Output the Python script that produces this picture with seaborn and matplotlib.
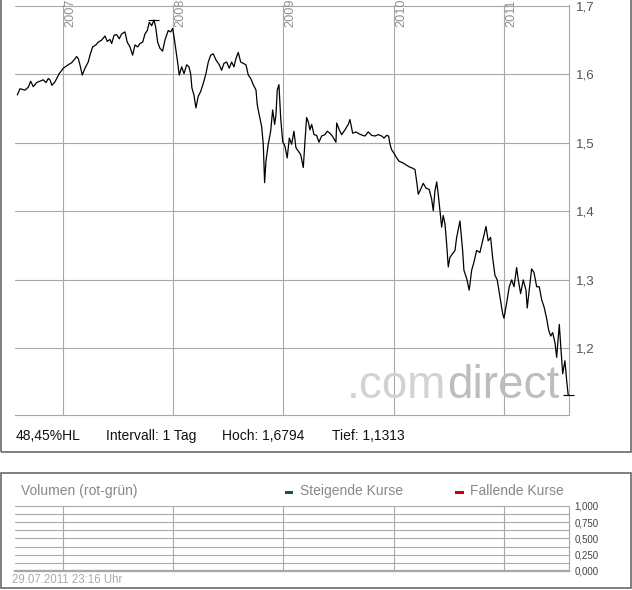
import numpy as np
import pandas as pd
import seaborn as sns
import matplotlib.pyplot as plt
from matplotlib.patches import Rectangle

# Kursverlauf (Dezimaljahr, Kurs)
years = [
    2006.586, 2006.610, 2006.655, 2006.685, 2006.707, 2006.731, 2006.761, 2006.791,
    2006.821, 2006.846, 2006.867, 2006.882, 2006.900, 2006.927, 2006.966, 2007.003,
    2007.048, 2007.079, 2007.100, 2007.124, 2007.139, 2007.154, 2007.175, 2007.200,
    2007.229, 2007.245, 2007.269, 2007.299, 2007.320, 2007.351, 2007.381, 2007.402,
    2007.426, 2007.442, 2007.463, 2007.487, 2007.511, 2007.532, 2007.562, 2007.583,
    2007.608, 2007.632, 2007.653, 2007.678, 2007.698, 2007.723, 2007.744, 2007.765,
    2007.783, 2007.805, 2007.825, 2007.841, 2007.859, 2007.880, 2007.904, 2007.925,
    2007.955, 2007.977, 2007.995, 2008.010, 2008.025, 2008.037, 2008.055, 2008.077,
    2008.098, 2008.122, 2008.143, 2008.158, 2008.170, 2008.188, 2008.206, 2008.227,
    2008.249, 2008.273, 2008.297, 2008.318, 2008.340, 2008.363, 2008.388, 2008.418,
    2008.439, 2008.460, 2008.485, 2008.508, 2008.530, 2008.551, 2008.569, 2008.590,
    2008.612, 2008.635, 2008.660, 2008.681, 2008.703, 2008.726, 2008.751, 2008.762,
    2008.780, 2008.802, 2008.817, 2008.829, 2008.841, 2008.862, 2008.884, 2008.902,
    2008.920, 2008.932, 2008.944, 2008.959, 2008.975, 2008.993, 2009.014, 2009.034,
    2009.053, 2009.074, 2009.095, 2009.113, 2009.134, 2009.156, 2009.180, 2009.195,
    2009.210, 2009.225, 2009.240, 2009.256, 2009.277, 2009.301, 2009.322, 2009.346,
    2009.376, 2009.397, 2009.422, 2009.443, 2009.476, 2009.483, 2009.506, 2009.528,
    2009.558, 2009.588, 2009.603, 2009.628, 2009.658, 2009.688, 2009.718, 2009.739,
    2009.769, 2009.800, 2009.830, 2009.860, 2009.891, 2009.912, 2009.936, 2009.954,
    2009.966, 2009.981, 2010.002, 2010.027, 2010.050, 2010.081, 2010.111, 2010.141,
    2010.172, 2010.193, 2010.208, 2010.223, 2010.244, 2010.268, 2010.293, 2010.322,
    2010.344, 2010.359, 2010.374, 2010.390, 2010.404, 2010.420, 2010.435, 2010.449,
    2010.465, 2010.480, 2010.495, 2010.510, 2010.556, 2010.571, 2010.601, 2010.625,
    2010.637, 2010.662, 2010.685, 2010.707, 2010.728, 2010.752, 2010.782, 2010.807,
    2010.837, 2010.857, 2010.879, 2010.897, 2010.918, 2010.939, 2010.964, 2010.988,
    2011.000, 2011.024, 2011.048, 2011.070, 2011.091, 2011.115, 2011.130, 2011.151,
    2011.175, 2011.200, 2011.211, 2011.229, 2011.251, 2011.272, 2011.297, 2011.320,
    2011.342, 2011.363, 2011.387, 2011.405, 2011.424, 2011.442, 2011.463, 2011.478,
    2011.502, 2011.514, 2011.533, 2011.553, 2011.569, 2011.583,
]
prices = [
    1.570, 1.579, 1.577, 1.581, 1.590, 1.582, 1.588, 1.590,
    1.592, 1.588, 1.594, 1.592, 1.584, 1.589, 1.601, 1.609,
    1.614, 1.617, 1.621, 1.626, 1.623, 1.614, 1.599, 1.609,
    1.618, 1.628, 1.640, 1.643, 1.647, 1.650, 1.656, 1.648,
    1.651, 1.645, 1.657, 1.658, 1.652, 1.659, 1.662, 1.647,
    1.640, 1.628, 1.643, 1.640, 1.645, 1.647, 1.659, 1.664,
    1.676, 1.671, 1.6794, 1.669, 1.647, 1.638, 1.634, 1.650,
    1.664, 1.662, 1.667, 1.652, 1.635, 1.621, 1.599, 1.611,
    1.601, 1.614, 1.611, 1.601, 1.580, 1.570, 1.551, 1.568,
    1.575, 1.587, 1.601, 1.618, 1.628, 1.630, 1.621, 1.614,
    1.606, 1.616, 1.618, 1.609, 1.618, 1.611, 1.623, 1.632,
    1.618, 1.616, 1.614, 1.599, 1.594, 1.585, 1.577, 1.556,
    1.541, 1.524, 1.498, 1.442, 1.473, 1.498, 1.517, 1.548,
    1.527, 1.541, 1.577, 1.585, 1.536, 1.502, 1.495, 1.478,
    1.507, 1.498, 1.517, 1.493, 1.488, 1.483, 1.464, 1.502,
    1.537, 1.531, 1.519, 1.527, 1.512, 1.511, 1.501, 1.510,
    1.512, 1.517, 1.514, 1.510, 1.501, 1.529, 1.519, 1.512,
    1.519, 1.527, 1.534, 1.514, 1.516, 1.513, 1.511, 1.510,
    1.516, 1.511, 1.510, 1.512, 1.510, 1.507, 1.511, 1.510,
    1.498, 1.490, 1.485, 1.478, 1.473, 1.471, 1.468, 1.465,
    1.463, 1.461, 1.444, 1.425, 1.432, 1.441, 1.434, 1.432,
    1.418, 1.401, 1.430, 1.443, 1.425, 1.401, 1.377, 1.394,
    1.382, 1.353, 1.319, 1.333, 1.343, 1.362, 1.386, 1.343,
    1.314, 1.302, 1.285, 1.314, 1.326, 1.343, 1.340, 1.357,
    1.378, 1.357, 1.362, 1.333, 1.307, 1.300, 1.275, 1.251,
    1.244, 1.266, 1.290, 1.300, 1.290, 1.318, 1.300, 1.280,
    1.300, 1.285, 1.259, 1.285, 1.316, 1.311, 1.290, 1.290,
    1.271, 1.261, 1.244, 1.227, 1.218, 1.223, 1.208, 1.187,
    1.235, 1.206, 1.163, 1.182, 1.153, 1.1313,
]

year_ticks = [2007, 2008, 2009, 2010, 2011]
price_ticks = [1.2, 1.3, 1.4, 1.5, 1.6, 1.7]
price_labels = ["1,2", "1,3", "1,4", "1,5", "1,6", "1,7"]
vol_ticks = [0.0, 0.25, 0.5, 0.75, 1.0]
vol_minor = [0.125, 0.375, 0.625, 0.875]
vol_labels = ["0,000", "0,250", "0,500", "0,750", "1,000"]
hoch = 1.6794
tief = 1.1313
info = ["48,45%HL", "Intervall: 1 Tag", "Hoch: 1,6794", "Tief: 1,1313"]

df = pd.DataFrame({"Jahr": years, "Kurs": prices})

sns.set_style("white")
plt.rcParams["font.family"] = ["Liberation Sans", "DejaVu Sans"]

W, H = 632, 590
fig = plt.figure(figsize=(W / 100, H / 100), dpi=100)


def fx(px):
    return px / W


def fy(py):
    return 1 - py / H


grid_c = "#a8a8a8"
box_c = "#6a6a6a"
xmin, xmax = 2006.565, 2011.590

# --- Kurs-Chart ---
ax = fig.add_axes([fx(15), fy(415), fx(569) - fx(15), fy(5.3) - fy(415)])
sns.lineplot(data=df, x="Jahr", y="Kurs", ax=ax, color="black", linewidth=0.9, zorder=3)
i_hi = int(np.argmax(prices))
i_lo = int(np.argmin(prices))
ax.hlines(hoch, years[i_hi] - 0.05, years[i_hi] + 0.05, color="black", lw=0.8, zorder=3, clip_on=False)
ax.hlines(tief, years[i_lo] - 0.05, years[i_lo] + 0.05, color="black", lw=0.8, zorder=3, clip_on=False)

ax.set_xlim(xmin, xmax)
ax.set_ylim(1.1028, 1.7008)
ax.set_xticks(year_ticks)
ax.set_yticks(price_ticks)
ax.set_yticklabels(price_labels)
ax.yaxis.tick_right()
ax.tick_params(axis="x", length=0, labelbottom=False)
ax.tick_params(axis="y", length=0, pad=5, labelsize=9.6, labelcolor="#555555")
ax.grid(True, color=grid_c, lw=0.8)
ax.set_axisbelow(True)
ax.set_xlabel("")
ax.set_ylabel("")
for s in ["top", "left"]:
    ax.spines[s].set_visible(False)
for s in ["bottom", "right"]:
    ax.spines[s].set_color(grid_c)
    ax.spines[s].set_linewidth(0.8)

for yr in year_ticks:
    ax.annotate(str(yr), xy=(yr, 1), xycoords=("data", "axes fraction"),
                xytext=(1.0, -15.8), textcoords="offset points", rotation=90,
                ha="left", va="bottom", fontsize=9.2, color="#909090",
                annotation_clip=False)

# Wasserzeichen
ax.text(0.778, 0.0415, ".com", transform=ax.transAxes, ha="right", va="baseline",
        fontsize=33, color="#d2d2d2", zorder=1)
ax.text(0.780, 0.0415, "direct", transform=ax.transAxes, ha="left", va="baseline",
        fontsize=33, color="#bdbdbd", zorder=1)

# Infozeile
for x_px, txt in zip([16, 106, 222, 332], info):
    fig.text(fx(x_px), fy(440), txt, ha="left", va="baseline", fontsize=10, color="#111111")

# Rahmen
fig.add_artist(Rectangle((fx(0.8), fy(452)), fx(631) - fx(0.8), 1.0, transform=fig.transFigure,
                         fill=False, ec=box_c, lw=1.2))
fig.add_artist(Rectangle((fx(0.8), fy(587.5)), fx(631) - fx(0.8), fy(473) - fy(587.5),
                         transform=fig.transFigure, fill=False, ec=box_c, lw=1.2))

# --- Volumen-Chart ---
ax2 = fig.add_axes([fx(15), fy(571), fx(569) - fx(15), fy(505.7) - fy(571)])
ax2.set_xlim(xmin, xmax)
ax2.set_ylim(0, 1)
ax2.set_xticks(year_ticks)
ax2.set_yticks(vol_ticks)
ax2.set_yticks(vol_minor, minor=True)
ax2.set_yticklabels(vol_labels)
ax2.yaxis.tick_right()
ax2.tick_params(axis="x", length=0, labelbottom=False)
ax2.tick_params(axis="y", which="both", length=0, pad=4, labelsize=7, labelcolor="#444444")
ax2.grid(True, which="major", color=grid_c, lw=0.8)
ax2.grid(True, which="minor", axis="y", color=grid_c, lw=0.8)
for s in ["top", "left"]:
    ax2.spines[s].set_visible(False)
ax2.spines["right"].set_color(grid_c)
ax2.spines["right"].set_linewidth(0.8)
ax2.spines["bottom"].set_color(grid_c)
ax2.spines["bottom"].set_linewidth(1.7)

fig.text(fx(21), fy(491), "Volumen (rot-grün)", ha="left", va="center", fontsize=10, color="#888888")
fig.add_artist(Rectangle((fx(285), fy(494)), fx(8), 3 / H, transform=fig.transFigure,
                         color="#006633", lw=0))
fig.text(fx(300), fy(491), "Steigende Kurse", ha="left", va="center", fontsize=10, color="#888888")
fig.add_artist(Rectangle((fx(455), fy(494)), fx(9), 3 / H, transform=fig.transFigure,
                         color="#cc0000", lw=0))
fig.text(fx(470), fy(491), "Fallende Kurse", ha="left", va="center", fontsize=10, color="#888888")
fig.text(fx(12), fy(580), "29.07.2011 23:16 Uhr", ha="left", va="center", fontsize=8.3, color="#aaaaaa")

fig.savefig("out.png", dpi=100)
